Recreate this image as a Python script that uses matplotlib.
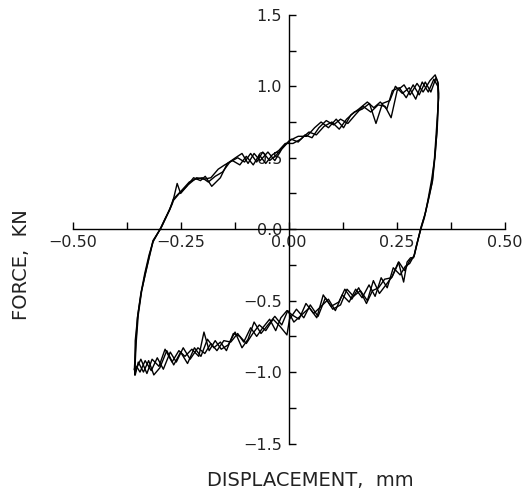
import matplotlib.pyplot as plt
from matplotlib.ticker import MultipleLocator

# hysteresis loops: (displacement mm, force kN)
cycle_1 = [
    (-0.357, -1.00), (-0.354, -0.80), (-0.349, -0.60), (-0.341, -0.43), (-0.332, -0.30),
    (-0.322, -0.17), (-0.315, -0.08), (-0.296, 0.01), (-0.285, 0.08), (-0.275, 0.15),
    (-0.268, 0.20), (-0.254, 0.25), (-0.237, 0.30), (-0.221, 0.36), (-0.205, 0.34),
    (-0.194, 0.37), (-0.179, 0.30), (-0.159, 0.36), (-0.143, 0.46), (-0.124, 0.50),
    (-0.109, 0.53), (-0.095, 0.46), (-0.081, 0.53), (-0.067, 0.48), (-0.049, 0.54),
    (-0.033, 0.48), (-0.017, 0.56), (0.001, 0.62), (0.021, 0.65), (0.041, 0.65),
    (0.059, 0.71), (0.074, 0.75), (0.091, 0.71), (0.109, 0.77), (0.126, 0.71),
    (0.143, 0.80), (0.161, 0.84), (0.181, 0.89), (0.196, 0.85), (0.211, 0.89),
    (0.226, 0.84), (0.239, 0.97), (0.255, 0.99), (0.271, 0.92), (0.287, 1.01),
    (0.301, 0.94), (0.315, 1.03), (0.328, 0.96), (0.340, 1.06), (0.345, 1.02),
    (0.346, 0.92), (0.341, 0.70), (0.336, 0.48), (0.331, 0.33), (0.323, 0.22),
    (0.314, 0.10), (0.304, 0.00), (0.296, -0.10), (0.289, -0.19),
    (0.279, -0.22), (0.267, -0.29), (0.254, -0.23), (0.239, -0.33), (0.224, -0.39),
    (0.209, -0.45), (0.195, -0.36), (0.181, -0.50), (0.165, -0.43), (0.149, -0.47),
    (0.134, -0.42), (0.119, -0.53), (0.101, -0.56), (0.084, -0.48), (0.067, -0.61),
    (0.049, -0.53), (0.034, -0.62), (0.017, -0.56), (0.001, -0.63), (-0.005, -0.74),
    (-0.021, -0.68), (-0.037, -0.63), (-0.054, -0.71), (-0.069, -0.67), (-0.084, -0.73),
    (-0.099, -0.80), (-0.114, -0.75), (-0.129, -0.73), (-0.145, -0.85), (-0.159, -0.79),
    (-0.174, -0.83), (-0.189, -0.77), (-0.204, -0.89), (-0.219, -0.83), (-0.235, -0.94),
    (-0.251, -0.86), (-0.267, -0.95), (-0.283, -0.85), (-0.299, -0.97), (-0.313, -1.02),
    (-0.325, -0.92), (-0.337, -1.00), (-0.349, -0.93), (-0.356, -1.02), (-0.358, -0.98),
]

cycle_2 = [
    (-0.358, -0.98), (-0.355, -0.82), (-0.351, -0.62), (-0.343, -0.45), (-0.334, -0.31),
    (-0.324, -0.18), (-0.314, -0.08), (-0.298, 0.00), (-0.287, 0.07), (-0.277, 0.13),
    (-0.270, 0.18), (-0.259, 0.32), (-0.251, 0.25), (-0.234, 0.31), (-0.214, 0.36),
    (-0.197, 0.35), (-0.181, 0.36), (-0.164, 0.42), (-0.149, 0.45), (-0.131, 0.48),
    (-0.114, 0.45), (-0.099, 0.51), (-0.083, 0.45), (-0.069, 0.52), (-0.054, 0.46),
    (-0.039, 0.52), (-0.024, 0.55), (-0.009, 0.60), (0.009, 0.60), (0.027, 0.63),
    (0.046, 0.68), (0.063, 0.66), (0.081, 0.72), (0.099, 0.75), (0.116, 0.70),
    (0.133, 0.77), (0.151, 0.82), (0.169, 0.84), (0.186, 0.88), (0.201, 0.74),
    (0.216, 0.88), (0.233, 0.90), (0.246, 1.00), (0.262, 0.95), (0.278, 0.99),
    (0.293, 0.91), (0.308, 1.03), (0.322, 0.96), (0.335, 1.05), (0.344, 1.00),
    (0.345, 0.90), (0.342, 0.68), (0.337, 0.50), (0.330, 0.35), (0.321, 0.20),
    (0.313, 0.08), (0.303, -0.02), (0.294, -0.12), (0.288, -0.20),
    (0.281, -0.20), (0.273, -0.23), (0.265, -0.37), (0.253, -0.23), (0.237, -0.34),
    (0.221, -0.35), (0.207, -0.41), (0.193, -0.43), (0.179, -0.52), (0.161, -0.41),
    (0.145, -0.49), (0.129, -0.42), (0.115, -0.51), (0.097, -0.54), (0.079, -0.46),
    (0.064, -0.62), (0.047, -0.55), (0.029, -0.60), (0.011, -0.65), (-0.003, -0.57),
    (-0.017, -0.67), (-0.033, -0.61), (-0.049, -0.67), (-0.065, -0.73), (-0.081, -0.65),
    (-0.095, -0.77), (-0.109, -0.83), (-0.125, -0.72), (-0.141, -0.81), (-0.157, -0.84),
    (-0.171, -0.78), (-0.185, -0.85), (-0.197, -0.72), (-0.209, -0.89), (-0.225, -0.84),
    (-0.241, -0.89), (-0.255, -0.85), (-0.271, -0.93), (-0.287, -0.84), (-0.301, -0.96),
    (-0.317, -0.91), (-0.329, -1.01), (-0.343, -0.91), (-0.354, -0.98), (-0.357, -1.01),
]

cycle_3 = [
    (-0.357, -1.01), (-0.356, -0.78), (-0.350, -0.60), (-0.342, -0.44), (-0.333, -0.32),
    (-0.323, -0.19), (-0.315, -0.09), (-0.297, 0.01), (-0.286, 0.08), (-0.276, 0.14),
    (-0.268, 0.21), (-0.249, 0.27), (-0.231, 0.33), (-0.217, 0.35), (-0.201, 0.36),
    (-0.187, 0.33), (-0.171, 0.37), (-0.154, 0.40), (-0.137, 0.47), (-0.119, 0.50),
    (-0.103, 0.47), (-0.089, 0.53), (-0.075, 0.47), (-0.061, 0.54), (-0.045, 0.48),
    (-0.029, 0.52), (-0.013, 0.58), (0.005, 0.63), (0.021, 0.61), (0.037, 0.66),
    (0.053, 0.64), (0.069, 0.71), (0.086, 0.76), (0.103, 0.73), (0.119, 0.77),
    (0.136, 0.74), (0.153, 0.80), (0.171, 0.86), (0.189, 0.82), (0.206, 0.87),
    (0.222, 0.86), (0.236, 0.78), (0.250, 0.97), (0.266, 1.01), (0.280, 0.94),
    (0.296, 1.02), (0.310, 0.96), (0.326, 1.04), (0.338, 1.08), (0.344, 1.03),
    (0.346, 0.95), (0.343, 0.72), (0.338, 0.52), (0.332, 0.34), (0.325, 0.24),
    (0.316, 0.12), (0.306, 0.02), (0.298, -0.08), (0.290, -0.18),
    (0.279, -0.24), (0.269, -0.26), (0.257, -0.32), (0.241, -0.27), (0.227, -0.41),
    (0.213, -0.34), (0.199, -0.47), (0.185, -0.39), (0.169, -0.48), (0.154, -0.42),
    (0.139, -0.51), (0.123, -0.46), (0.107, -0.57), (0.091, -0.49), (0.074, -0.54),
    (0.057, -0.59), (0.039, -0.52), (0.023, -0.63), (0.007, -0.60), (-0.005, -0.57),
    (-0.019, -0.62), (-0.031, -0.71), (-0.045, -0.63), (-0.061, -0.69), (-0.075, -0.75),
    (-0.089, -0.69), (-0.105, -0.79), (-0.119, -0.73), (-0.135, -0.79), (-0.151, -0.78),
    (-0.167, -0.85), (-0.181, -0.80), (-0.195, -0.87), (-0.211, -0.83), (-0.229, -0.91),
    (-0.245, -0.83), (-0.261, -0.93), (-0.275, -0.86), (-0.291, -0.98), (-0.305, -0.90),
    (-0.319, -0.99), (-0.333, -0.92), (-0.345, -1.00), (-0.353, -0.96), (-0.357, -1.02),
]

cycles = [cycle_1, cycle_2, cycle_3]

fig = plt.figure(figsize=(5.29, 4.95), dpi=100)
ax = fig.add_axes([0.138, 0.104, 0.817, 0.866])

for cyc in cycles:
    xs, ys = zip(*cyc)
    ax.plot(xs, ys, color='black', linewidth=1.0)

ax.set_xlim(-0.5, 0.5)
ax.set_ylim(-1.5, 1.5)

# axes cross at the origin
ax.spines['left'].set_position(('data', 0))
ax.spines['bottom'].set_position(('data', 0))
ax.spines['top'].set_visible(False)
ax.spines['right'].set_visible(False)
for s in ('left', 'bottom'):
    ax.spines[s].set_linewidth(1.0)

ax.xaxis.set_major_locator(MultipleLocator(0.25))
ax.xaxis.set_minor_locator(MultipleLocator(0.125))
ax.yaxis.set_major_locator(MultipleLocator(0.5))
ax.yaxis.set_minor_locator(MultipleLocator(0.25))
ax.tick_params(which='both', direction='in', length=5, width=1.0)
ax.tick_params(axis='both', labelsize=11.5, labelcolor='#222222')
ax.tick_params(axis='x', pad=4)
ax.tick_params(axis='y', pad=5)

fig.text(0.587, 0.030, "DISPLACEMENT,  mm", ha='center', va='center',
         fontsize=14, color='#222222')
fig.text(0.040, 0.465, "FORCE,  KN", ha='center', va='center', rotation=90,
         fontsize=14, color='#222222')

plt.savefig('out.png', dpi=100)
